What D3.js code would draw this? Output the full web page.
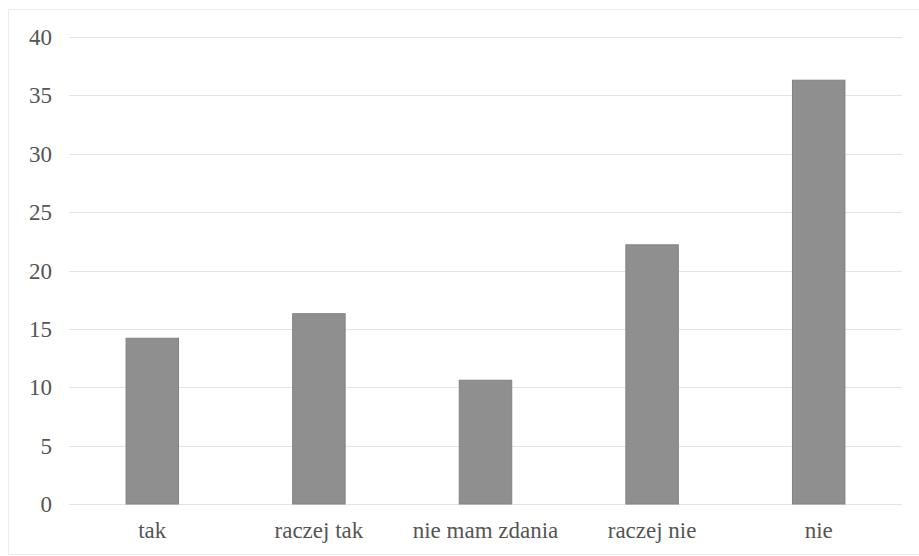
<!DOCTYPE html>
<html>
<head>
<meta charset="utf-8">
<script src="https://cdn.jsdelivr.net/npm/d3@7"></script>
<style>
  html, body { margin: 0; padding: 0; background: #fff; }
  svg { display: block; }
  svg text.lbl { font-family: "Liberation Serif", "Times New Roman", serif !important; }
</style>
</head>
<body>
<script>
// Survey answers and their shares (%)
const categories = ["tak", "raczej tak", "nie mam zdania", "raczej nie", "nie"];
const values = [14.2, 16.3, 10.6, 22.2, 36.3];
const yTicks = [0, 5, 10, 15, 20, 25, 30, 35, 40];

const W = 919, H = 556;
const margin = { left: 69, right: 17, top: 37, bottom: 52 };

const svg = d3.select("body").append("svg")
  .attr("width", W).attr("height", H);

// Faint outer frame of the chart area
svg.append("rect")
  .attr("x", 8.5).attr("y", 9.5)
  .attr("width", W - 8).attr("height", H - 11)
  .attr("fill", "none")
  .attr("stroke", "#ececec")
  .attr("stroke-width", 1);

const x = d3.scaleBand()
  .domain(categories)
  .range([margin.left, W - margin.right])
  .paddingInner(0.685)
  .paddingOuter(0.3425);

const y = d3.scaleLinear()
  .domain([0, 40])
  .range([H - margin.bottom, margin.top]);

// Horizontal gridlines
svg.append("g")
  .selectAll("line")
  .data(yTicks)
  .join("line")
  .attr("x1", margin.left).attr("x2", W - margin.right)
  .attr("y1", d => Math.round(y(d)) + 0.5)
  .attr("y2", d => Math.round(y(d)) + 0.5)
  .attr("stroke", "#e4e4e4")
  .attr("stroke-width", 1);

// Value axis labels
svg.append("g")
  .selectAll("text")
  .data(yTicks)
  .join("text")
  .attr("class", "lbl")
  .attr("font-family", "Liberation Serif")
  .style("font-size", "23px")
  .attr("fill", "#555")
  .attr("text-anchor", "end")
  .attr("x", 52)
  .attr("y", d => y(d) + 8)
  .text(d => d);

// Bars
svg.append("g")
  .selectAll("rect")
  .data(values)
  .join("rect")
  .attr("x", (d, i) => x(categories[i]))
  .attr("y", d => y(d))
  .attr("width", x.bandwidth())
  .attr("height", d => y(0) - y(d))
  .attr("fill", "#8f8f8f")
  .attr("stroke", "#828282")
  .attr("stroke-width", 1);

// Category labels
svg.append("g")
  .selectAll("text")
  .data(categories)
  .join("text")
  .attr("class", "lbl")
  .attr("font-family", "Liberation Serif")
  .style("font-size", "23px")
  .attr("fill", "#555")
  .attr("text-anchor", "middle")
  .attr("x", d => x(d) + x.bandwidth() / 2)
  .attr("y", H - margin.bottom + 34)
  .text(d => d);
</script>
</body>
</html>
